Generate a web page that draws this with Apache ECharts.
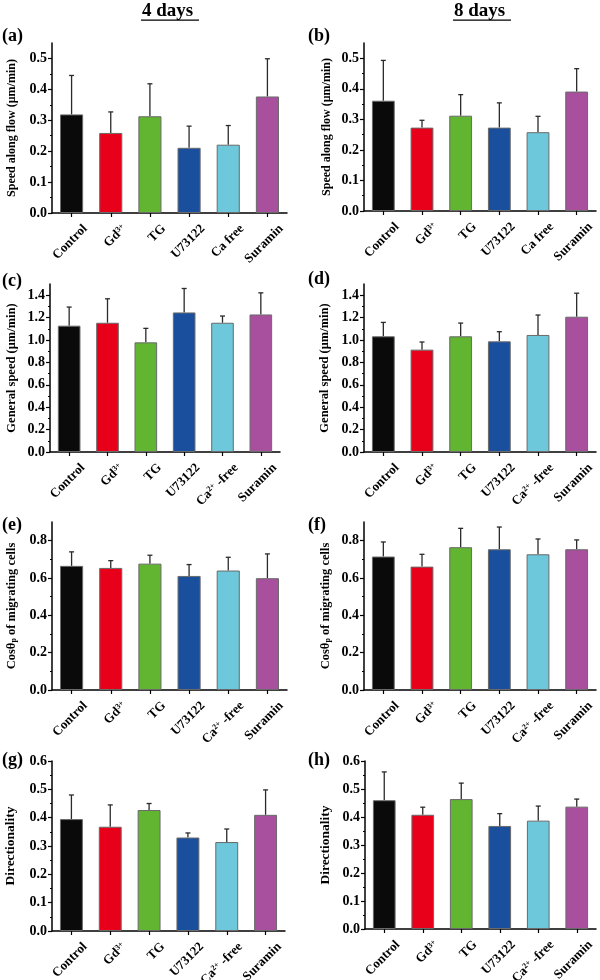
<!DOCTYPE html>
<html><head><meta charset="utf-8">
<script src="https://cdn.jsdelivr.net/npm/echarts@6/dist/echarts.min.js"></script>
<style>html,body{margin:0;padding:0;background:#fff}#c{width:600px;height:980px}</style>
</head><body><div id="c"></div><script>
// ---- data ----
const categoriesTop = ['Control', 'Gd3+', 'TG', 'U73122', 'Ca free', 'Suramin'];
const categoriesRest = ['Control', 'Gd3+', 'TG', 'U73122', 'Ca2+-free', 'Suramin'];
const barColors = ['#0a0a0a', '#e8001a', '#62b530', '#1a4f9e', '#6cc8da', '#a8509e'];

const meanA = [0.319, 0.259, 0.313, 0.211, 0.221, 0.377];
const sdA   = [0.126, 0.068, 0.105, 0.070, 0.062, 0.122];
const meanB = [0.361, 0.273, 0.312, 0.273, 0.258, 0.391];
const sdB   = [0.132, 0.024, 0.069, 0.081, 0.052, 0.075];
const meanC = [1.128, 1.154, 0.979, 1.246, 1.154, 1.228];
const sdC   = [0.166, 0.214, 0.125, 0.214, 0.060, 0.193];
const meanD = [1.033, 0.914, 1.033, 0.988, 1.045, 1.208];
const sdD   = [0.124, 0.068, 0.118, 0.086, 0.178, 0.210];
const meanE = [0.665, 0.654, 0.677, 0.611, 0.640, 0.599];
const sdE   = [0.075, 0.039, 0.045, 0.061, 0.071, 0.130];
const meanF = [0.715, 0.661, 0.765, 0.754, 0.727, 0.754];
const sdF   = [0.078, 0.066, 0.101, 0.119, 0.082, 0.050];
const meanG = [0.395, 0.368, 0.427, 0.330, 0.314, 0.410];
const sdG   = [0.085, 0.077, 0.023, 0.016, 0.046, 0.088];
const meanH = [0.460, 0.408, 0.464, 0.368, 0.387, 0.437];
const sdH   = [0.101, 0.027, 0.057, 0.044, 0.052, 0.027];

const ticksSpeed = [0, 0.1, 0.2, 0.3, 0.4, 0.5];
const ticksGeneral = [0, 0.2, 0.4, 0.6, 0.8, 1.0, 1.2, 1.4];
const ticksCos = [0, 0.2, 0.4, 0.6, 0.8];
const ticksDir = [0, 0.1, 0.2, 0.3, 0.4, 0.5, 0.6];

const columnTitles = ['4 days', '8 days'];
const panelLetters = ['(a)', '(b)', '(c)', '(d)', '(e)', '(f)', '(g)', '(h)'];
const yNames = ['Speed along flow (μm/min)', 'General speed (μm/min)', 'Cosθ{sub|p} of migrating cells', 'Directionality'];

// ---- layout ----
const SERIF = "'Liberation Serif','Times New Roman',serif";
const panels = [
  {cats: categoriesTop, mean: meanA, sd: sdA, ticks: ticksSpeed, max: 0.55, interval: 0.1, name: yNames[0], nameSize: 12, grid: {left: 52, top: 43, width: 235, height: 170}, gap: 34},
  {cats: categoriesTop, mean: meanB, sd: sdB, ticks: ticksSpeed, max: 0.55, interval: 0.1, name: yNames[0], nameSize: 12, grid: {left: 364, top: 43, width: 232, height: 168}, gap: 31},
  {cats: categoriesRest, mean: meanC, sd: sdC, ticks: ticksGeneral, max: 1.5, interval: 0.2, name: yNames[1], nameSize: 12.5, grid: {left: 50, top: 284, width: 230, height: 168}, gap: 32},
  {cats: categoriesRest, mean: meanD, sd: sdD, ticks: ticksGeneral, max: 1.5, interval: 0.2, name: yNames[1], nameSize: 12.5, grid: {left: 364, top: 284, width: 232, height: 168}, gap: 33},
  {cats: categoriesRest, mean: meanE, sd: sdE, ticks: ticksCos, max: 0.9, interval: 0.2, name: yNames[2], nameSize: 12.5, grid: {left: 52, top: 522, width: 235, height: 168}, gap: 34},
  {cats: categoriesRest, mean: meanF, sd: sdF, ticks: ticksCos, max: 0.9, interval: 0.2, name: yNames[2], nameSize: 12.5, grid: {left: 364, top: 522, width: 232, height: 168}, gap: 32},
  {cats: categoriesRest, mean: meanG, sd: sdG, ticks: ticksDir, max: 0.6, interval: 0.1, name: yNames[3], nameSize: 13.5, grid: {left: 52, top: 761, width: 233, height: 170}, gap: 34},
  {cats: categoriesRest, mean: meanH, sd: sdH, ticks: ticksDir, max: 0.6, interval: 0.1, name: yNames[3], nameSize: 13.5, grid: {left: 365, top: 761, width: 231, height: 168}, gap: 32}
];
const panelLabelPos = [[2, 27], [308, 27], [2, 272], [308, 270], [2, 516], [308, 516], [2, 751], [308, 751]];
const titlePos = [170, 482];

function catLabel(v) {
  if (v === 'Gd3+') return 'Gd{sup|3+}';
  if (v === 'Ca2+-free') return 'Ca{sup|2+} -free';
  return v;
}

const grids = [], xAxes = [], yAxes = [], series = [];
panels.forEach((p, i) => {
  grids.push(Object.assign({outerBoundsMode: 'none', containLabel: false}, p.grid));
  xAxes.push({
    type: 'category', gridIndex: i, data: p.cats,
    axisLine: {lineStyle: {color: '#000', width: 1.5}},
    axisTick: {show: true, alignWithLabel: true, length: 4, lineStyle: {color: '#000', width: 1.2}},
    axisLabel: {
      interval: 0, rotate: 45, margin: 0, align: 'right', verticalAlign: 'top', padding: [13, 0, 0, 0],
      fontFamily: SERIF, fontWeight: 'bold', fontSize: 13, color: '#000',
      formatter: catLabel,
      rich: {sup: {fontSize: 8, fontFamily: SERIF, fontWeight: 'bold', verticalAlign: 'top', lineHeight: 8, color: '#000'}}
    }
  });
  yAxes.push({
    type: 'value', gridIndex: i, min: 0, max: p.max, interval: p.interval,
    splitLine: {show: false},
    axisLine: {show: true, lineStyle: {color: '#000', width: 1.5}},
    axisTick: {show: true, length: 4, customValues: p.ticks, lineStyle: {color: '#000', width: 1.2}},
    minorTick: {show: true, splitNumber: 2, length: 2, lineStyle: {color: '#000', width: 1}},
    axisLabel: {
      customValues: p.ticks, margin: 5,
      fontFamily: SERIF, fontWeight: 'bold', fontSize: 14, color: '#000',
      formatter: v => Number(v).toFixed(1)
    },
    name: p.name, nameLocation: 'middle', nameRotate: 90, nameGap: p.gap,
    nameTextStyle: {
      fontFamily: SERIF, fontWeight: 'bold', fontSize: p.nameSize, color: '#000',
      rich: {sub: {fontSize: 8, fontFamily: SERIF, fontWeight: 'bold', verticalAlign: 'bottom', lineHeight: 8, color: '#000'}}
    }
  });
  series.push({
    type: 'bar', xAxisIndex: i, yAxisIndex: i, barWidth: '59%',
    data: p.mean.map((v, k) => ({value: v, itemStyle: {color: barColors[k]}})),
    itemStyle: {borderColor: '#6a6a6a', borderWidth: 1},
    z: 3, animation: false
  });
  series.push({
    type: 'custom', xAxisIndex: i, yAxisIndex: i, z: 2, animation: false,
    data: p.mean.map((v, k) => [k, v, p.sd[k]]),
    encode: {x: 0, y: 1},
    renderItem(params, api) {
      const x = api.value(0), m = api.value(1), s = api.value(2);
      const p0 = api.coord([x, m]);
      const p1 = api.coord([x, m + s]);
      const cap = 2.5;
      const st = {stroke: '#2a2a2a', lineWidth: 1.3};
      return {type: 'group', children: [
        {type: 'line', shape: {x1: p0[0], y1: p0[1], x2: p1[0], y2: p1[1]}, style: st},
        {type: 'line', shape: {x1: p1[0] - cap, y1: p1[1], x2: p1[0] + cap, y2: p1[1]}, style: st}
      ]};
    }
  });
});

const graphics = [];
columnTitles.forEach((t, i) => {
  graphics.push({type: 'text', left: titlePos[i] - 28, top: 2, style: {text: t, font: "bold 19px " + SERIF, fill: '#000'}});
  graphics.push({type: 'rect', shape: {x: titlePos[i] - 29, y: 19.5, width: 58, height: 1.3}, style: {fill: '#000'}});
});
panelLetters.forEach((t, i) => {
  graphics.push({type: 'text', left: panelLabelPos[i][0], top: panelLabelPos[i][1], style: {text: t, font: "bold 18px " + SERIF, fill: '#000'}});
});

const chart = echarts.init(document.getElementById('c'), null, {renderer: 'canvas'});
chart.setOption({
  backgroundColor: '#fff',
  animation: false,
  grid: grids, xAxis: xAxes, yAxis: yAxes, series: series,
  graphic: graphics
});
</script></body></html>
